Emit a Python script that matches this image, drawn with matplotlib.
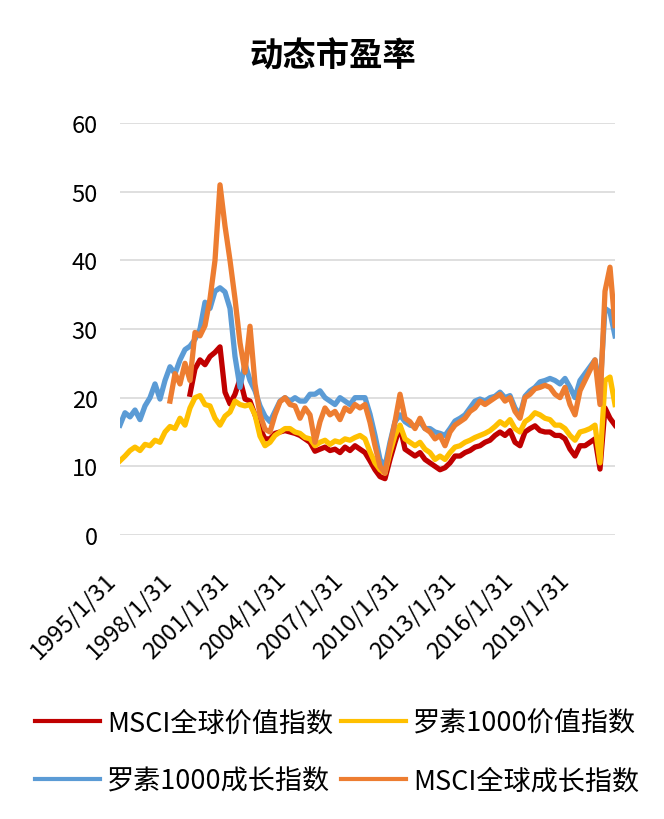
import numpy as np
import pandas as pd
import matplotlib
matplotlib.use('Agg')
import matplotlib.pyplot as plt

plt.rcParams['font.family'] = ['Noto Sans CJK SC', 'DejaVu Sans']

nan = np.nan

# dates of the samples (evenly spaced over the period)
dates = pd.date_range('1995-01-31', '2021-04-10', periods=100)

# 罗素1000成长指数
russell_growth = [16.0, 17.8, 17.2, 18.2, 16.8, 18.8, 20.0, 22.0, 19.8, 22.5,
                  24.5, 23.5, 25.5, 27.0, 27.5, 28.5, 30.0, 33.9, 33.0, 35.5,
                  36.0, 35.4, 33.0, 26.0, 21.5, 25.0, 22.5, 21.0, 18.8, 17.3,
                  16.5, 18.0, 19.5, 20.0, 19.5, 20.0, 19.5, 19.5, 20.5, 20.5,
                  21.0, 20.0, 19.5, 19.0, 20.0, 19.5, 19.0, 20.0, 20.0, 20.0,
                  17.6, 14.5, 11.0, 10.0, 13.5, 16.5, 17.5, 16.5, 16.0, 15.8,
                  16.5, 15.5, 15.5, 15.0, 14.8, 14.5, 15.5, 16.6, 17.0, 17.5,
                  18.5, 19.5, 19.8, 19.5, 20.0, 20.2, 20.8, 20.0, 20.3, 18.5,
                  17.5, 20.2, 21.0, 21.5, 22.3, 22.5, 22.8, 22.5, 22.0, 22.8,
                  21.5, 20.0, 22.5, 23.5, 24.5, 25.5, 21.0, 33.0, 32.5, 29.0]

# 罗素1000价值指数
russell_value = [10.8, 11.5, 12.3, 12.8, 12.3, 13.2, 13.0, 13.8, 13.5, 15.0,
                 15.8, 15.5, 17.0, 16.0, 18.5, 20.0, 20.3, 19.0, 18.8, 17.0,
                 16.0, 17.3, 17.9, 19.5, 19.0, 18.8, 19.0, 17.5, 14.4, 13.0,
                 13.5, 14.5, 15.0, 15.5, 15.5, 15.0, 14.8, 14.2, 14.0, 13.0,
                 13.5, 13.8, 13.2, 13.7, 13.5, 14.0, 13.8, 14.2, 14.5, 14.0,
                 12.1, 10.5, 9.5, 9.0, 12.0, 14.5, 16.0, 14.0, 13.5, 13.0,
                 13.5, 12.5, 12.0, 11.0, 11.5, 11.0, 12.0, 12.8, 13.0, 13.5,
                 13.8, 14.2, 14.5, 14.8, 15.2, 15.8, 16.5, 16.0, 16.8, 15.5,
                 15.0, 16.5, 17.0, 17.8, 17.5, 17.0, 16.8, 16.0, 16.0, 15.5,
                 14.5, 13.8, 15.0, 15.2, 15.5, 16.0, 10.5, 22.5, 23.0, 19.0]

# MSCI全球价值指数
msci_value = [nan, nan, nan, nan, nan, nan, nan, nan, nan, nan,
              nan, nan, nan, nan, 20.5, 24.2, 25.5, 24.8, 26.0, 26.6,
              27.4, 20.8, 19.1, 20.5, 22.7, 19.8, 19.5, 17.5, 15.5, 14.0,
              14.0, 14.8, 15.0, 15.2, 15.0, 14.8, 14.5, 14.0, 13.5, 12.2,
              12.5, 12.8, 12.3, 12.5, 12.0, 12.8, 12.3, 13.0, 12.5, 12.0,
              10.8, 9.5, 8.5, 8.2, 11.0, 13.5, 15.8, 12.5, 12.0, 11.5,
              12.0, 11.0, 10.5, 10.0, 9.5, 9.8, 10.5, 11.5, 11.5, 12.0,
              12.3, 12.8, 13.0, 13.5, 13.8, 14.5, 15.0, 14.5, 15.2, 13.5,
              13.0, 15.0, 15.5, 15.9, 15.2, 15.0, 15.0, 14.5, 14.5, 14.0,
              12.5, 11.5, 13.0, 13.0, 13.5, 14.0, 9.6, 18.5, 17.0, 16.0]

# MSCI全球成长指数
msci_growth = [nan, nan, nan, nan, nan, nan, nan, nan, nan, nan,
               19.5, 23.5, 22.0, 25.0, 22.5, 29.5, 29.0, 30.5, 34.4, 40.0,
               51.0, 45.0, 40.0, 34.4, 28.0, 23.7, 30.4, 22.0, 17.5, 15.4,
               15.0, 17.5, 19.4, 20.0, 19.0, 18.8, 17.0, 18.5, 17.5, 13.5,
               16.5, 18.5, 17.5, 18.0, 16.8, 18.5, 18.0, 19.0, 18.5, 19.0,
               16.4, 13.0, 10.0, 9.0, 13.0, 16.5, 20.5, 17.0, 16.5, 15.5,
               17.0, 15.5, 15.0, 14.0, 14.5, 13.0, 15.0, 16.0, 16.5, 17.0,
               18.0, 18.5, 19.5, 19.0, 19.5, 20.0, 20.5, 19.5, 20.0, 18.0,
               17.0, 20.0, 20.5, 21.3, 21.5, 21.8, 21.5, 20.5, 20.0, 21.5,
               19.0, 17.5, 21.0, 22.5, 24.0, 25.5, 19.0, 35.5, 39.0, 30.5]

tick_dates = pd.to_datetime(['1995-01-31', '1998-01-31', '2001-01-31', '2004-01-31',
                             '2007-01-31', '2010-01-31', '2013-01-31', '2016-01-31',
                             '2019-01-31'])
tick_labels = ['1995/1/31', '1998/1/31', '2001/1/31', '2004/1/31', '2007/1/31',
               '2010/1/31', '2013/1/31', '2016/1/31', '2019/1/31']

fig = plt.figure(figsize=(6.64, 8.20), dpi=100)
ax = fig.add_axes([120/664, 1 - 536/820, 495/664, 412/820])

lw = 3.8
l_red, = ax.plot(dates, msci_value, color='#C00000', lw=lw, solid_joinstyle='round', zorder=2)
l_yel, = ax.plot(dates, russell_value, color='#FFC000', lw=lw, solid_joinstyle='round', zorder=3)
l_blu, = ax.plot(dates, russell_growth, color='#5B9BD5', lw=lw, solid_joinstyle='round', zorder=4)
l_org, = ax.plot(dates, msci_growth, color='#ED7D31', lw=lw, solid_joinstyle='round', zorder=5)

ax.set_xlim(dates[0], dates[-1])
ax.set_ylim(0, 60)
ax.set_yticks([0, 10, 20, 30, 40, 50, 60])
ax.grid(axis='y', color='#D9D9D9', lw=1.2)
ax.set_axisbelow(True)
for s in ax.spines.values():
    s.set_visible(False)

ax.set_xticks(tick_dates, tick_labels, rotation=45, ha='right')
ax.tick_params(axis='x', length=0, pad=24, labelsize=17)
ax.tick_params(axis='y', length=0, pad=16, labelsize=17)

fig.text(0.502, 1 - 57/820, '动态市盈率', ha='center', va='center',
         fontsize=24, fontweight='bold')

leg = fig.legend([l_red, l_blu, l_yel, l_org],
                 ['MSCI全球价值指数', '罗素1000成长指数', '罗素1000价值指数', 'MSCI全球成长指数'],
                 ncol=2, loc='upper center', bbox_to_anchor=(337/664, 1 - 686/820),
                 frameon=False, fontsize=19.5, handlelength=2.4, handletextpad=0.25,
                 columnspacing=0.3, labelspacing=1.15)
for h in leg.get_lines():
    h.set_linewidth(3.0)

fig.savefig('out.png', dpi=100, facecolor='white')
